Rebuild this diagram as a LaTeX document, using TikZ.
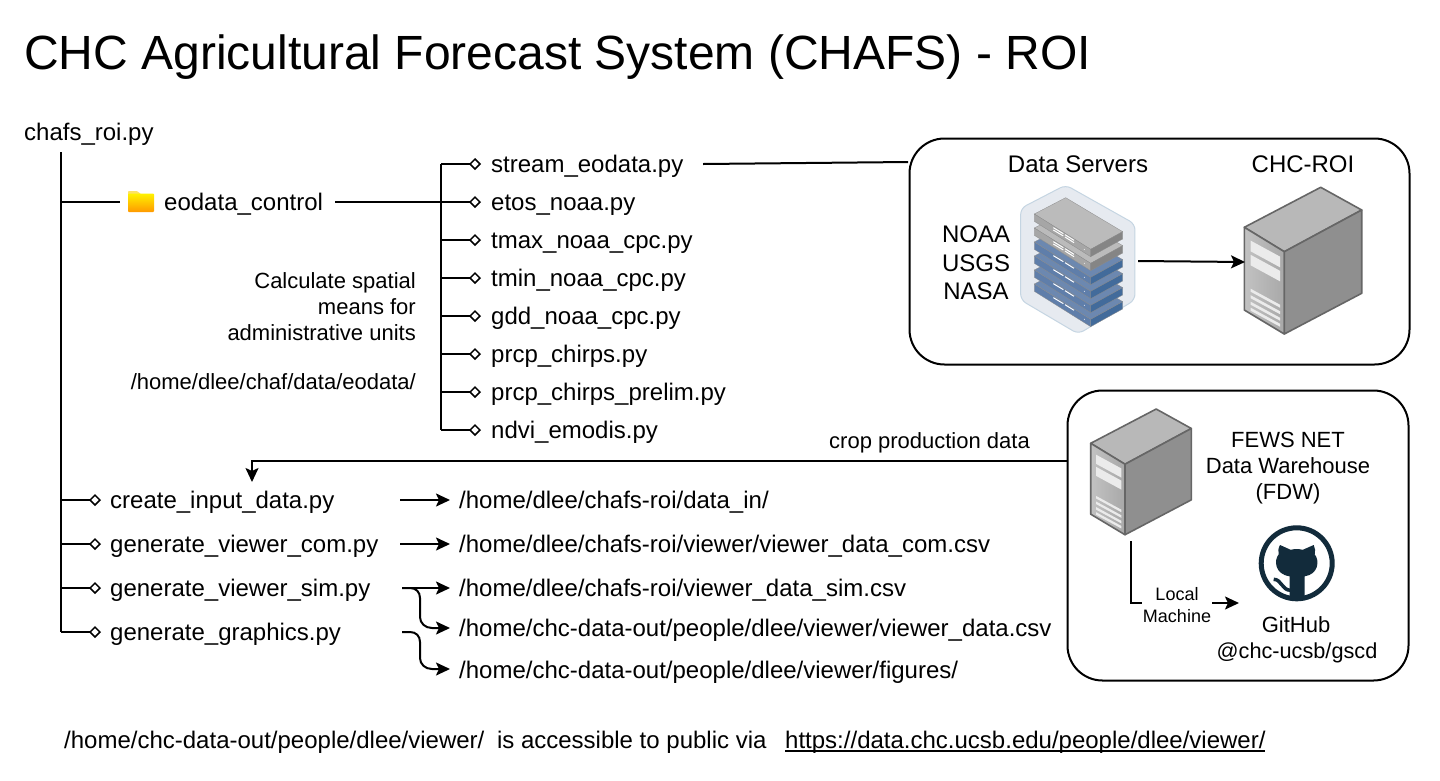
\documentclass[tikz,border=0pt]{standalone}
\usepackage{fontspec}
\setmainfont{Liberation Sans}
\usetikzlibrary{arrows.meta}
\definecolor{ghdark}{HTML}{122B3B}
\definecolor{hexfill}{HTML}{E6EAF0}
\definecolor{hexline}{HTML}{C5D5E2}
\definecolor{blueTop}{HTML}{6C88B0}
\definecolor{blueLeft}{HTML}{5F7EAA}
\definecolor{blueRight}{HTML}{426B9B}
\definecolor{grayTop}{HTML}{BBBBBB}
\definecolor{grayLeft}{HTML}{A6A6A6}
\definecolor{grayRight}{HTML}{858585}
\newcommand{\fs}[1]{\fontsize{#1}{#1}\selectfont}
\newcommand{\fsl}[2]{\fontsize{#1}{#2}\selectfont}
\tikzset{
  txt/.style={inner sep=0pt,anchor=base west,font=\fs{24}},
  txtS/.style={inner sep=0pt,anchor=base,font=\fs{22}},
  conn/.style={draw=black,line width=2pt},
  arr/.style={conn,-{Stealth[inset=3pt,length=14pt,width=13pt]}},
  dia/.style={conn,-{Diamond[fill=white,length=12pt,width=12pt,line width=1.5pt]}},
  roundbox/.style={draw=black,line width=2pt,rounded corners=35pt,fill=white},
}
\newcommand{\towerserver}[3]{%
  \begin{scope}[shift={(#1,#2)},x=#3pt,y=-#3pt]
    \filldraw[draw=black!60,line width=1.6pt,fill=black!28,line join=round] (0,0) -- (76.4,-40) -- (117.4,-17.3) -- (40,24.4) -- cycle;
    \filldraw[draw=black!60,line width=1.6pt,left color=black!24,right color=black!34,line join=round] (0,0) -- (40,24.4) -- (40,106.7) -- (0,82.7) -- cycle;
    \filldraw[draw=black!60,line width=1.6pt,fill=black!44,line join=round] (40,24.4) -- (117.4,-17.3) -- (117.4,66) -- (40,106.7) -- cycle;
    \fill[white!92!black] (6.3,13.3) -- (35.7,29.3) -- (35.7,40) -- (6.3,24) -- cycle;
    \fill[white!92!black] (6.3,27.5) -- (35.7,43.5) -- (35.7,54) -- (6.3,38) -- cycle;
    \foreach \d in {63,69.5,76,82}{\fill[white!92!black] (6.3,\d-1.6) -- (35.7,\d+14.4) -- (35.7,\d+17.4) -- (6.3,\d+1.4) -- cycle;}
  \end{scope}}
\newcommand{\slab}[5]{%
  \begin{scope}[yshift=-#1*0.3333pt]
    \fill[#2,draw=black!45,line width=.3pt,line join=round] (403,252) -- (497,203) -- (668,305) -- (572,358) -- cycle;
    \fill[#3,draw=black!45,line width=.3pt,line join=round] (403,252) -- (572,358) -- (572,380) -- (403,274) -- cycle;
    \fill[#4,draw=black!45,line width=.3pt,line join=round] (572,358) -- (668,305) -- (668,327) -- (572,380) -- cycle;
    \draw[white,line width=1pt] (460,293) -- (490,311) (495,314) -- (522,331);
    \ifnum#5=1 \draw[white,line width=1pt] (460,300) -- (490,318) (495,321) -- (522,338);\fi
    \fill[white] (553,358) circle (1.5);
  \end{scope}}
\begin{document}
\begin{tikzpicture}[x=1pt,y=-1pt]
\useasboundingbox (0,0) rectangle (1440,780);
\fill[white] (0,0) rectangle (1440,780);

% title
\node[txt,font=\fs{48}] (title) at (24,69) {CHC Agricultural Forecast System (CHAFS) - ROI};

% boxes
\node[roundbox,minimum width=500pt,minimum height=226pt,anchor=north west,inner sep=0pt] (boxA) at (908.5,137.5) {};
\node[roundbox,minimum width=341pt,minimum height=290pt,anchor=north west,inner sep=0pt] (boxB) at (1066.5,389.5) {};

% tree
\node[txt] (root) at (24,140) {chafs\_roi.py};
\coordinate (trunkTop) at (61,152);
\coordinate (trunkBot) at (61,632);
\draw[conn] (trunkTop) -- (trunkBot);

% folder
\coordinate (foldL) at (120,202);
\begin{scope}
  \fill[rounded corners=.8pt,fill=yellow!70!orange!60!white] (128,191) -- (137,191) -- (141,194) -- (141,196) -- (128,196) -- cycle;
  \shade[rounded corners=.8pt,top color=yellow!90!orange,bottom color=orange!80!yellow] (128,193.5) -- (154,193.5) -- (154,212) -- (128,212) -- cycle;
\end{scope}
\node[txt] (ctrl) at (164,210) {eodata\_control};
\coordinate (ctrlOut) at (335,202);
\coordinate (trunkFold) at (61,202);
\draw[conn] (trunkFold) -- (foldL);

% eodata scripts
\coordinate (busTop) at (441,164);
\coordinate (busBot) at (441,430);
\draw[conn] (busTop) -- (busBot);
\foreach \n/\y/\t in {s1/164/stream\_eodata.py,s2/202/etos\_noaa.py,s3/240/tmax\_noaa\_cpc.py,s4/278/tmin\_noaa\_cpc.py,s5/316/gdd\_noaa\_cpc.py,s6/354/prcp\_chirps.py,s7/392/prcp\_chirps\_prelim.py,s8/430/ndvi\_emodis.py}{
  \node[txt] (\n) at (491,\y+8) {\t};
  \coordinate (\n tip) at (481,\y);
  \coordinate (\n bus) at (441,\y);
  \draw[dia] (\n bus) -- (\n tip);
}
\draw[conn] (ctrlOut) -- (s2bus);

\node[inner sep=0pt,anchor=east,align=right,font=\fsl{22}{26}] (calc) at (416,307) {Calculate spatial\\means for\\administrative units};
\node[txtS,anchor=base east] (eopath) at (416,389) {/home/dlee/chaf/data/eodata/};

% stream connector
\coordinate (sOut) at (703,164);
\coordinate (boxAin) at (908,162);
\draw[conn] (sOut) -- (boxAin);

% lower scripts
\foreach \n/\y/\t in {p1/500/create\_input\_data.py,p2/544/generate\_viewer\_com.py,p3/588/generate\_viewer\_sim.py,p4/632/generate\_graphics.py}{
  \node[txt] (\n) at (110,\y+8) {\t};
  \coordinate (\n tip) at (101,\y);
  \coordinate (\n bus) at (61,\y);
  \draw[dia] (\n bus) -- (\n tip);
}
\node[txt] (o1) at (459,508) {/home/dlee/chafs-roi/data\_in/};
\node[txt] (o2) at (459,552) {/home/dlee/chafs-roi/viewer/viewer\_data\_com.csv};
\node[txt] (o3) at (459,596) {/home/dlee/chafs-roi/viewer\_data\_sim.csv};
\node[txt] (o4) at (459,636) {/home/chc-data-out/people/dlee/viewer/viewer\_data.csv};
\node[txt] (o5) at (459,678) {/home/chc-data-out/people/dlee/viewer/figures/};

\coordinate (a1) at (400,500); \coordinate (a1t) at (450,500);
\coordinate (a2) at (400,544); \coordinate (a2t) at (450,544);
\coordinate (a3) at (402,588); \coordinate (a3t) at (450,588);
\coordinate (a4t) at (450,628);
\coordinate (a5) at (402,632); \coordinate (a5t) at (450,669);
\draw[arr] (a1) -- (a1t);
\draw[arr] (a2) -- (a2t);
\draw[arr] (a3) -- (a3t);
\draw[arr] (a3) -- (410,588) .. controls (416,588) and (420,592) .. (420,598) -- (420,617) .. controls (420,623) and (425,628) .. (432,628) -- (a4t);
\draw[arr] (a5) -- (410,632) .. controls (416,632) and (420,636) .. (420,642) -- (420,658) .. controls (420,664) and (425,669) .. (432,669) -- (a5t);

% crop production
\coordinate (cropStart) at (1067,461);
\coordinate (cropEnd) at (252,482);
\draw[arr] (cropStart) -- (252,461) -- (cropEnd);
\node[txtS] (croplbl) at (929.5,448) {crop production data};

% data servers
\node[txt,anchor=base] (dsl) at (1078,172) {Data Servers};
\node[txt,anchor=base] (chcl) at (1303,172) {CHC-ROI};
\node[inner sep=0pt,align=center,font=\fsl{24}{28.5}] (srcs) at (976,263) {NOAA\\USGS\\NASA};
\begin{scope}[shift={(900,130)},x=0.3333pt,y=-0.3333pt]
  \filldraw[draw=hexline,fill=hexfill,line width=1pt,rounded corners=6pt] (497,165) -- (705,282) -- (705,510) -- (535,612) -- (362,510) -- (362,235) -- cycle;
  \slab{210}{blueTop}{blueLeft}{blueRight}{0}
  \slab{168}{blueTop}{blueLeft}{blueRight}{0}
  \slab{126}{blueTop}{blueLeft}{blueRight}{0}
  \slab{84}{blueTop}{blueLeft}{blueRight}{0}
  \slab{42}{grayTop}{grayLeft}{grayRight}{1}
  \slab{0}{grayTop}{grayLeft}{grayRight}{1}
\end{scope}
\towerserver{1244.3}{227.3}{1}
\coordinate (srvOut) at (1138,261);
\coordinate (roiIn) at (1245,262);
\draw[arr] (srvOut) -- (roiIn);

% FDW
\towerserver{1090.7}{443.3}{0.857}
\node[inner sep=0pt,align=center,font=\fsl{22}{26}] (fdw) at (1288,468) {FEWS NET\\Data Warehouse\\(FDW)};
\begin{scope}[shift={(1296.7,563.3)}]
  \draw[ghdark,line width=5pt] (0,0) circle (35.5);
  \fill[ghdark] (-16.7,-18.3) -- (-6,-13.5) .. controls (-2,-14.5) and (2,-14.5) .. (6,-13.5) -- (17,-18.3) .. controls (18.5,-15) and (18.8,-12) .. (18,-9) .. controls (23,-3) and (22,11) .. (8,13) -- (8,34) -- (-7,34) -- (-7,13) .. controls (-22,11) and (-23,-3) .. (-18,-9) .. controls (-18.8,-12) and (-18.5,-15) .. (-16.7,-18.3) -- cycle;
  \draw[ghdark,line width=3.5pt] (-23,16) .. controls (-15,16) and (-15,27) .. (-6,27);
\end{scope}
\node[txtS] (ghl) at (1296,632) {GitHub};
\node[txtS,font=\fs{21.7}] (ghu) at (1297,658) {@chc-ucsb/gscd};
\coordinate (lmA) at (1131,541);
\coordinate (lmB) at (1142,603);
\draw[conn] (lmA) |- (lmB);
\node[inner sep=0pt,align=center,font=\fsl{18}{22}] (lm) at (1177,605) {Local\\Machine};
\coordinate (lmC) at (1212,603);
\coordinate (lmD) at (1239,603);
\draw[arr] (lmC) -- (lmD);

% footer
\node[txt] (foot) at (64,748) {/home/chc-data-out/people/dlee/viewer/\hspace{6pt} is accessible to public via};
\node[txt] (url) at (785,748) {https://data.chc.ucsb.edu/people/dlee/viewer/};
\coordinate (urlA) at (785,751); \coordinate (urlB) at (1265,751);
\draw[line width=1.6pt] (urlA) -- (urlB);
\end{tikzpicture}
\end{document}
